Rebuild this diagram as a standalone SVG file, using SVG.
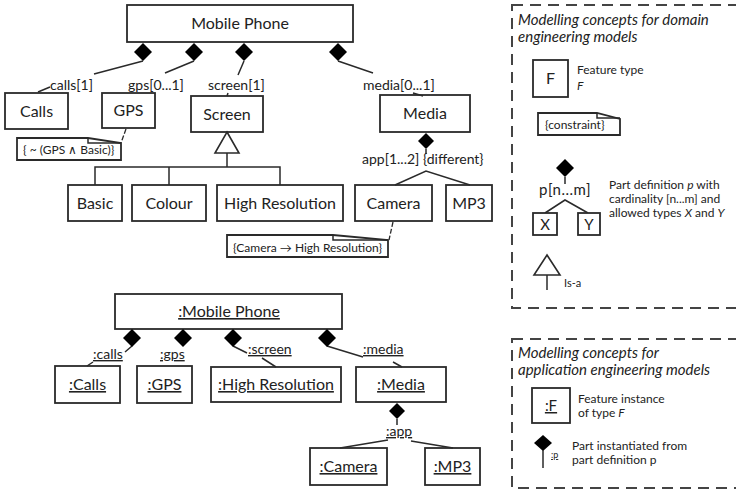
<svg xmlns="http://www.w3.org/2000/svg" width="736" height="492" viewBox="0 0 736 492">
<style>
.box{fill:#fff;stroke:#2a2a2a;stroke-width:1.8}
.ln{fill:none;stroke:#2a2a2a;stroke-width:1.5}
.dl{fill:none;stroke:#2a2a2a;stroke-width:1.3;stroke-dasharray:5 2}
.frame{fill:none;stroke:#444;stroke-width:2;stroke-dasharray:11 7}
.t{font-family:Lato,"Liberation Sans",sans-serif;fill:#222}
.big{font-size:16px;text-anchor:middle}
.role{font-size:14px}
.note{font-size:12px}
.leg{font-size:12px}
.ttl{font-size:15px;font-style:italic}
.it{font-style:italic}
.u{text-decoration:underline}
.dia{fill:#000}
</style>
<defs>
<path id="dia" class="dia" d="M0 0 L9 9 L0 18 L-9 9 Z"/>
<path id="diaS" class="dia" d="M0 0 L8 8 L0 16 L-8 8 Z"/>
</defs>
<rect width="736" height="492" fill="#fff"/>

<!-- ===== feature model (types) ===== -->
<g id="mobile-phone"><rect class="box" x="127" y="5" width="226" height="37"/><text class="t big" x="240" y="29">Mobile Phone</text></g>
<g id="calls"><rect class="box" x="5" y="93" width="63" height="36"/><text class="t big" x="36.5" y="117">Calls</text></g>
<g id="gps"><rect class="box" x="102" y="93" width="53" height="35"/><text class="t big" x="128.5" y="116">GPS</text></g>
<g id="screen"><rect class="box" x="191" y="96" width="72" height="36"/><text class="t big" x="227" y="120">Screen</text></g>
<g id="media"><rect class="box" x="380" y="95" width="90" height="37"/><text class="t big" x="425" y="119">Media</text></g>
<g id="basic"><rect class="box" x="68" y="185" width="54" height="36"/><text class="t big" x="95" y="209">Basic</text></g>
<g id="colour"><rect class="box" x="132" y="185" width="74" height="36"/><text class="t big" x="169" y="209">Colour</text></g>
<g id="high-resolution"><rect class="box" x="217" y="185" width="126" height="36"/><text class="t big" x="280" y="209">High Resolution</text></g>
<g id="camera"><rect class="box" x="355" y="185" width="77" height="36"/><text class="t big" x="393.5" y="209">Camera</text></g>
<g id="mp3"><rect class="box" x="446" y="185" width="46" height="36"/><text class="t big" x="469" y="209">MP3</text></g>

<g id="note-gps">
<path class="box" d="M17 138 H88 L121 143 V160 H17 Z"/>
<path class="ln" d="M88 138 V143 H121"/>
<text class="t note" x="23" y="154">{ ~ (GPS ∧ Basic)}</text>
</g>
<g id="note-camera">
<path class="box" d="M227 235 H333 L388 240 V257 H227 Z"/>
<path class="ln" d="M333 235 V240 H388"/>
<text class="t note" x="233" y="252">{Camera →  High Resolution}</text>
</g>

<!-- ===== feature model (instances) ===== -->
<g id="i-mobile-phone"><rect class="box" x="115" y="294" width="227" height="35"/><text class="t big u" x="229" y="317">:Mobile Phone</text></g>
<g id="i-calls"><rect class="box" x="55" y="366" width="65" height="37"/><text class="t big u" x="87.5" y="390">:Calls</text></g>
<g id="i-gps"><rect class="box" x="137" y="366" width="55" height="37"/><text class="t big u" x="164.5" y="390">:GPS</text></g>
<g id="i-high-resolution"><rect class="box" x="211" y="367" width="130" height="35"/><text class="t big u" x="276" y="390">:High Resolution</text></g>
<g id="i-media"><rect class="box" x="356" y="367" width="90" height="35"/><text class="t big u" x="401" y="390">:Media</text></g>
<g id="i-camera"><rect class="box" x="310" y="448" width="77" height="37"/><text class="t big u" x="348.5" y="472">:Camera</text></g>
<g id="i-mp3"><rect class="box" x="425" y="448" width="55" height="37"/><text class="t big u" x="452.5" y="472">:MP3</text></g>

<!-- ===== connectors ===== -->
<g id="connectors">
  <!-- parts of Mobile Phone -->
  <path class="ln" d="M143 61 L94 74 M50 87 L38 92"/>
  <path class="ln" d="M194 61 L165 73"/>
  <path class="ln" d="M244 61 L238 75 M228 93 L227 96"/>
  <path class="ln" d="M338 61 L373 73 M413 93 L423 96"/>
  <use href="#dia" x="143" y="43"/>
  <use href="#dia" x="194" y="43"/>
  <use href="#dia" x="244" y="43"/>
  <use href="#dia" x="338" y="43"/>
  <text class="t role" x="50" y="90">calls[1]</text>
  <text class="t role" x="128" y="90">gps[0...1]</text>
  <text class="t role" x="208" y="90">screen[1]</text>
  <text class="t role" x="363" y="90">media[0...1]</text>

  <!-- Screen specialisations -->
  <path class="ln" d="M227 153 V167 M95 185 V167 H280 V185 M169 167 V185"/>
  <path class="box" style="stroke-width:1.6" d="M227 132 L239 153 L215 153 Z"/>

  <!-- apps of Media -->
  <use href="#diaS" x="426" y="133"/>
  <path class="ln" d="M426 149 V154 M395 185 L426 171 L470 185"/>
  <text class="t role" x="362" y="164">app[1...2] {different}</text>

  <!-- constraint anchors -->
  <path class="dl" d="M126 129 L121 143"/>
  <path class="dl" d="M393 222 L389 240"/>

  <!-- instance links -->
  <path class="ln" d="M132 346 L125 352 M93 362 L87 366"/>
  <path class="ln" d="M233 346 L247 353 M262 358 L276 367"/>
  <path class="ln" d="M327 346 L363 357 M393 362 L402 367"/>
  <use href="#dia" x="132" y="329"/>
  <use href="#dia" x="183" y="329"/>
  <use href="#dia" x="233" y="329"/>
  <use href="#dia" x="327" y="329"/>
  <text class="t role u" x="93" y="359">:calls</text>
  <text class="t role u" x="160" y="359">:gps</text>
  <text class="t role u" x="248" y="354">:screen</text>
  <text class="t role u" x="363" y="354">:media</text>

  <use href="#diaS" x="397" y="403"/>
  <path class="ln" d="M397 419 V425 M340 448 L388 440 M411 441 L453 448"/>
  <text class="t role u" x="386" y="436">:app</text>
</g>

<!-- ===== legend: domain engineering ===== -->
<g id="legend-domain">
  <rect class="frame" x="512" y="5" width="240" height="303"/>
  <text class="t ttl" x="518" y="25">Modelling concepts for domain</text>
  <text class="t ttl" x="518" y="42">engineering models</text>
  <rect class="box" x="533" y="60" width="35" height="37"/>
  <text class="t big" x="550.5" y="84">F</text>
  <text class="t leg" x="577" y="74">Feature type</text>
  <text class="t leg it" x="577" y="90">F</text>
  <path class="box" d="M538 113 H597 L620 119 V135 H538 Z"/>
  <path class="ln" d="M597 113 V118 H620"/>
  <text class="t note" x="545" y="129">{constraint}</text>
  <use href="#dia" x="565" y="159"/>
  <path class="ln" d="M565 177 V184 M545 213 L565 200 L588 213"/>
  <text class="t" style="font-size:15px;letter-spacing:0.5px" x="539" y="195">p[n...m]</text>
  <rect class="box" x="533" y="213" width="24" height="22"/>
  <text class="t" style="font-size:15px;text-anchor:middle" x="545" y="230">X</text>
  <rect class="box" x="578" y="213" width="22" height="22"/>
  <text class="t" style="font-size:15px;text-anchor:middle" x="589" y="230">Y</text>
  <text class="t leg" x="609" y="189">Part definition <tspan class="it">p</tspan> with</text>
  <text class="t leg" x="609" y="203">cardinality [n...m] and</text>
  <text class="t leg" x="609" y="217">allowed types <tspan class="it">X</tspan> and <tspan class="it">Y</tspan></text>
  <path class="box" style="stroke-width:1.6" d="M547 255 L560 275 L534 275 Z"/>
  <path class="ln" d="M547 275 V290"/>
  <text class="t" style="font-size:11px" x="564" y="287">Is-a</text>
</g>

<!-- ===== legend: application engineering ===== -->
<g id="legend-application">
  <rect class="frame" x="512" y="339" width="240" height="149"/>
  <text class="t ttl" x="518" y="358">Modelling concepts for</text>
  <text class="t ttl" x="518" y="375">application engineering models</text>
  <rect class="box" x="532" y="388" width="38" height="35"/>
  <text class="t u" style="font-size:15px;text-anchor:middle" x="551" y="411">:F</text>
  <text class="t leg" x="578" y="403">Feature instance</text>
  <text class="t leg" x="578" y="417">of type <tspan class="it">F</tspan></text>
  <path class="dia" d="M543 435 L552 443 L543 451 L534 443 Z"/>
  <path class="ln" d="M543 450 V468"/>
  <text class="t u" style="font-size:9px" x="551" y="458">:p</text>
  <text class="t leg" x="572" y="450">Part instantiated from</text>
  <text class="t leg" x="572" y="464">part definition p</text>
</g>
</svg>
